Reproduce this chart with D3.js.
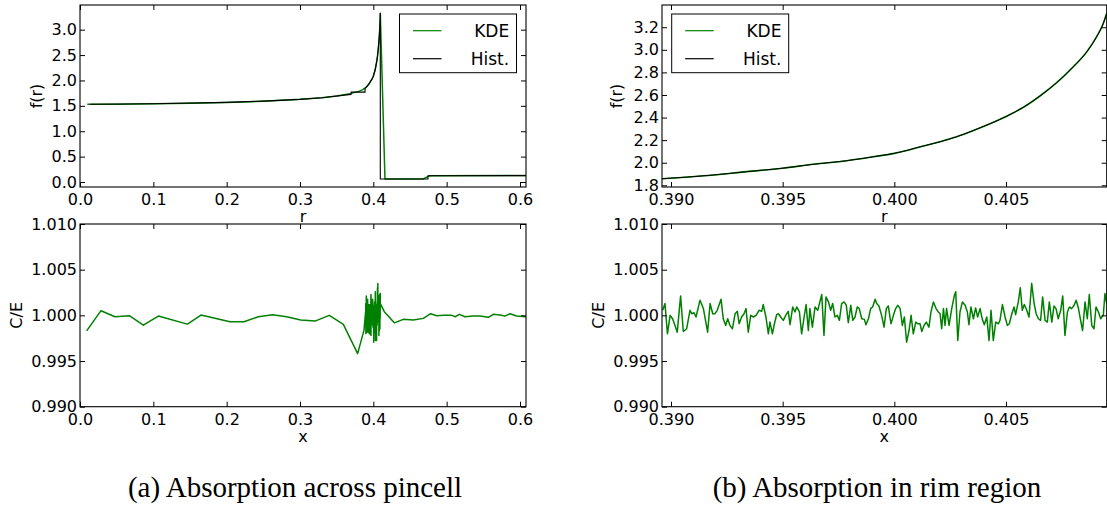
<!DOCTYPE html>
<html>
<head>
<meta charset="utf-8">
<script src="https://cdn.jsdelivr.net/npm/d3@7"></script>
<style>
  html, body { margin: 0; padding: 0; background: #fff; }
  svg { display: block; }
  text { font-family: "DejaVu Sans", sans-serif; fill: #000; }
  .caption { font-family: "Liberation Serif", "Times New Roman", serif; font-size: 29px; }
</style>
</head>
<body>
<svg id="fig" width="1107" height="510"></svg>
<script>
// ---------- data ----------
// rim region (fine bins): radius and flux density
const rimR    = [0.38958, 0.39189, 0.39339, 0.39498, 0.39637, 0.39787, 0.39906, 0.40000, 0.40130, 0.40205, 0.40279,
                 0.40354, 0.40428, 0.40503, 0.40578, 0.40652, 0.40727, 0.40802, 0.40862, 0.40906, 0.40936, 0.40951];
const rimKDE  = [1.858, 1.891, 1.921, 1.951, 1.986, 2.018, 2.053, 2.083, 2.148, 2.186, 2.230,
                 2.285, 2.345, 2.412, 2.491, 2.591, 2.709, 2.851, 2.983, 3.116, 3.235, 3.323];
const rimHist = [1.858, 1.891, 1.921, 1.951, 1.986, 2.018, 2.053, 2.083, 2.148, 2.186, 2.230,
                 2.285, 2.345, 2.412, 2.491, 2.591, 2.709, 2.851, 2.983, 3.116, 3.235, 3.323];

// fuel interior and moderator, KDE estimate
const innerR   = [0.010, 0.050, 0.100, 0.150, 0.200, 0.250, 0.300, 0.330, 0.350, 0.370, 0.380, 0.385];
const innerKDE = [1.530, 1.533, 1.540, 1.552, 1.568, 1.592, 1.628, 1.660, 1.695, 1.745, 1.785, 1.815];
const outerR   = [0.4159, 0.468, 0.472, 0.476, 0.480, 0.6082];
const outerKDE = [0.059, 0.059, 0.090, 0.120, 0.124, 0.126];

// histogram outline (repeated radii mark bin edges)
const innerHistR = [0.014, 0.100, 0.200, 0.250, 0.300, 0.330, 0.3696, 0.3696, 0.3887, 0.3887];
const innerHist  = [1.530, 1.540, 1.568, 1.592, 1.628, 1.660, 1.725, 1.770, 1.770, 1.840];
const outerHistR = [0.40951, 0.4745, 0.4745, 0.6082];
const outerHist  = [0.059, 0.059, 0.124, 0.126];

// collision / expected ratio in the rim region
const rimX  = [0.38963, 0.38973, 0.38984, 0.38996, 0.39007, 0.39018, 0.39028, 0.39043, 0.39055, 0.39070, 0.39085,
               0.39093, 0.39103, 0.39112, 0.39130, 0.39145, 0.39164, 0.39175, 0.39187, 0.39197, 0.39207, 0.39224,
               0.39234, 0.39245, 0.39254, 0.39264, 0.39275, 0.39287, 0.39297, 0.39305, 0.39316, 0.39327, 0.39336,
               0.39346, 0.39357, 0.39369, 0.39381, 0.39394, 0.39406, 0.39413, 0.39425, 0.39436, 0.39443, 0.39454,
               0.39463, 0.39473, 0.39481, 0.39491, 0.39503, 0.39515, 0.39525, 0.39533, 0.39545, 0.39555, 0.39563,
               0.39575, 0.39585, 0.39596, 0.39605, 0.39615,
               0.39622, 0.39633, 0.39645, 0.39657, 0.39675, 0.39685, 0.39694, 0.39705, 0.39715, 0.39724, 0.39734,
               0.39745, 0.39754, 0.39764, 0.39775, 0.39785, 0.39794, 0.39805, 0.39814, 0.39824, 0.39834, 0.39843,
               0.39854, 0.39866, 0.39873, 0.39884, 0.39894, 0.39903, 0.39914, 0.39921, 0.39931, 0.39943, 0.39954,
               0.39964, 0.39973, 0.39985, 0.39996, 0.40006, 0.40015, 0.40026, 0.40036, 0.40045, 0.40055, 0.40066,
               0.40075, 0.40085, 0.40096, 0.40105, 0.40115, 0.40123, 0.40133, 0.40143, 0.40155, 0.40164, 0.40175,
               0.40187, 0.40197, 0.40205, 0.40212, 0.40220, 0.40227, 0.40234, 0.40245, 0.40257, 0.40269,
               0.40275, 0.40284, 0.40294, 0.40305, 0.40317, 0.40327, 0.40334, 0.40343, 0.40354, 0.40364, 0.40373,
               0.40384, 0.40394, 0.40403, 0.40414, 0.40424, 0.40433, 0.40443, 0.40454, 0.40466, 0.40473, 0.40484,
               0.40496, 0.40506, 0.40515, 0.40526, 0.40536, 0.40543, 0.40555, 0.40564, 0.40573, 0.40582, 0.40593,
               0.40603, 0.40615, 0.40626, 0.40635, 0.40645, 0.40655, 0.40664, 0.40675, 0.40685, 0.40694, 0.40705,
               0.40715, 0.40724, 0.40734, 0.40745, 0.40754, 0.40764, 0.40775, 0.40784, 0.40794, 0.40805, 0.40814,
               0.40824, 0.40834, 0.40843, 0.40854, 0.40864, 0.40873, 0.40884, 0.40894, 0.40903, 0.40914, 0.40924,
               0.40936, 0.40943, 0.40951];
const rimCE = [1.00055, 1.00129, 0.99798, 1.00000, 0.99963, 0.99890, 0.99816, 1.00213, 0.99823, 0.99853, 1.00055,
               1.00018, 1.00029, 0.99982, 1.00166, 1.00074, 0.99816, 1.00129, 1.00018, 1.00018, 1.00055, 1.00177,
               0.99963, 0.99890, 0.99963, 0.99890, 0.99853, 1.00018, 1.00044, 0.99908, 0.99982, 1.00018, 1.00074,
               0.99816, 1.00000, 0.99982, 1.00000, 1.00055, 1.00044, 1.00118, 0.99982, 0.99798, 0.99926, 0.99798,
               0.99908, 1.00007, 1.00018, 0.99982, 0.99945, 1.00007, 1.00044, 0.99897, 1.00092, 1.00037, 1.00092,
               1.00037, 0.99798, 0.99982, 1.00118, 0.99834,
               1.00074, 0.99871, 1.00092, 1.00055, 1.00228, 0.99779, 1.00202, 1.00147, 1.00055, 1.00129, 0.99982,
               1.00000, 0.99945, 1.00129, 1.00147, 1.00110, 0.99919, 1.00110, 0.99945, 0.99982, 1.00092, 1.00074,
               0.99963, 0.99956, 0.99897, 0.99963, 1.00074, 1.00092, 1.00177, 1.00129, 1.00103, 1.00000, 0.99871,
               1.00074, 1.00103, 0.99908, 1.00000, 1.00074, 1.00110, 1.00074, 0.99890, 0.99982, 0.99706, 0.99834,
               1.00000, 0.99798, 0.99926, 0.99908, 0.99908, 0.99823, 0.99890, 0.99926, 0.99871, 1.00037, 1.00147,
               1.00074, 1.00037, 1.00018, 0.99853, 1.00074, 0.99890, 1.00074, 0.99890, 1.00074, 1.00221,
               1.00258, 0.99724, 1.00037, 1.00147, 1.00110, 1.00037, 0.99897, 1.00092, 0.99963, 1.00081, 0.99982,
               1.00074, 0.99956, 0.99897, 0.99982, 0.99724, 1.00055, 0.99724, 0.99926, 0.99908, 0.99945, 1.00118,
               0.99982, 0.99890, 0.99908, 1.00018, 1.00092, 1.00007, 1.00147, 1.00302, 1.00055, 1.00118, 1.00055,
               0.99982, 1.00350, 1.00129, 1.00018, 0.99963, 0.99945, 1.00202, 0.99945, 0.99926, 1.00147, 0.99926,
               1.00103, 1.00074, 0.99963, 1.00055, 1.00213, 0.99779, 1.00037, 1.00092, 1.00074, 1.00110, 1.00166,
               1.00081, 0.99945, 0.99834, 1.00147, 0.99963, 1.00228, 0.99890, 0.99853, 1.00092, 1.00037, 0.99963,
               1.00007, 1.00239, 1.00129];

// collision / expected ratio across the rest of the pincell
const ceInX  = [0.0091, 0.0286, 0.0477, 0.0673, 0.0864, 0.1068, 0.1464, 0.1650, 0.2045, 0.2236, 0.2432, 0.2627,
                0.2818, 0.3009, 0.3205, 0.3400, 0.3591, 0.3786, 0.3873];
const ceIn   = [0.99830, 1.00051, 0.99985, 0.99996, 0.99893, 0.99992, 0.99904, 1.00003, 0.99930, 0.99930, 0.99985,
                1.00007, 0.99985, 0.99948, 0.99937, 1.00000, 0.99901, 0.99581, 0.99838];
const ceOutX = [0.4150, 0.4286, 0.4409, 0.4545, 0.4682, 0.4782, 0.4864, 0.4955, 0.5068, 0.5120, 0.5173, 0.5250,
                0.5364, 0.5455, 0.5568, 0.5636, 0.5727, 0.5795, 0.5864, 0.5955, 0.6082];
const ceOut  = [1.00040, 0.99918, 0.99956, 0.99948, 0.99967, 1.00018, 0.99996, 1.00000, 1.00000, 0.99985, 1.00011,
                0.99985, 0.99992, 0.99992, 0.99978, 1.00011, 1.00003, 0.99992, 1.00018, 0.99992, 0.99985];

// tick values
const ticksPinX   = [0.0, 0.1, 0.2, 0.3, 0.4, 0.5, 0.6];
const ticksPinF   = [0.0, 0.5, 1.0, 1.5, 2.0, 2.5, 3.0];
const ticksRimX   = [0.390, 0.395, 0.400, 0.405];
const ticksRimF   = [1.8, 2.0, 2.2, 2.4, 2.6, 2.8, 3.0, 3.2];
const ticksCE     = [0.990, 0.995, 1.000, 1.005, 1.010];
const legendNames = ["KDE", "Hist."];
const captions    = ["(a) Absorption across pincell", "(b) Absorption in rim region"];

// ---------- drawing ----------
const GREEN = "#008000";
const zip = (xs, ys) => xs.map((x, i) => [x, ys[i]]);
const svg = d3.select("#fig");
svg.append("rect").attr("width", 1107).attr("height", 510).attr("fill", "#fff");

let clipId = 0;
function panel(o) {
  const x = d3.scaleLinear().domain(o.xDomain).range([o.l, o.r]);
  const y = d3.scaleLinear().domain(o.yDomain).range([o.b, o.t]);
  const g = svg.append("g");
  const id = "clip" + (clipId++);
  g.append("clipPath").attr("id", id).append("rect")
    .attr("x", o.l).attr("y", o.t).attr("width", o.r - o.l).attr("height", o.b - o.t);

  const plot = g.append("g").attr("clip-path", `url(#${id})`);
  o.series.forEach(s => {
    const line = d3.line().x(d => x(d[0])).y(d => y(d[1])).curve(s.curve || d3.curveLinear);
    plot.append("path").datum(s.data)
      .attr("fill", "none").attr("stroke", s.color).attr("stroke-width", s.width)
      .attr("stroke-linejoin", "round").attr("d", line);
  });

  const fs = "16px";
  const style = sel => {
    sel.select(".domain").remove();
    sel.selectAll(".tick line").attr("stroke", "#000").attr("stroke-width", 1);
    sel.selectAll(".tick text").style("font-size", fs).attr("fill", "#000");
  };
  g.append("g").attr("transform", `translate(0,${o.b})`)
    .call(d3.axisBottom(x).tickValues(o.xTicks).tickFormat(d3.format(o.xFmt)).tickSizeInner(-5).tickSizeOuter(0).tickPadding(6.5))
    .call(style);
  g.append("g").attr("transform", `translate(0,${o.t})`)
    .call(d3.axisTop(x).tickValues(o.xTicks).tickFormat("").tickSizeInner(-5).tickSizeOuter(0))
    .call(style);
  g.append("g").attr("transform", `translate(${o.l},0)`)
    .call(d3.axisLeft(y).tickValues(o.yTicks).tickFormat(d3.format(o.yFmt)).tickSizeInner(-5).tickSizeOuter(0).tickPadding(3))
    .call(style);
  g.append("g").attr("transform", `translate(${o.r},0)`)
    .call(d3.axisRight(y).tickValues(o.yTicks).tickFormat("").tickSizeInner(-5).tickSizeOuter(0))
    .call(style);

  g.append("rect").attr("x", o.l).attr("y", o.t).attr("width", o.r - o.l).attr("height", o.b - o.t)
    .attr("fill", "none").attr("stroke", "#000").attr("stroke-width", 1.1);

  g.append("text").attr("x", (o.l + o.r) / 2).attr("y", o.xLabelY)
    .attr("text-anchor", "middle").style("font-size", fs).text(o.xLabel);
  g.append("text").attr("transform", `translate(${o.yLabelX},${(o.t + o.b) / 2}) rotate(-90)`)
    .attr("text-anchor", "middle").attr("dy", "0.35em").style("font-size", fs).text(o.yLabel);

  if (o.legend) {
    const L = o.legend;
    const lg = g.append("g").attr("transform", `translate(${L.x},${L.y})`);
    lg.append("rect").attr("width", 117).attr("height", 58.7)
      .attr("fill", "#fff").attr("stroke", "#000").attr("stroke-width", 1);
    const cols = [GREEN, "#000"];
    legendNames.forEach((name, i) => {
      const yy = 16.7 + i * 28;
      lg.append("line").attr("x1", 13.5).attr("x2", 42).attr("y1", yy).attr("y2", yy)
        .attr("stroke", cols[i]).attr("stroke-width", 1.2);
      lg.append("text").attr("x", 109.7).attr("y", yy + 6.5).attr("text-anchor", "end")
        .style("font-size", "17px").text(name);
    });
  }
}

const pinX = [0, 0.6082];
const rimXd = [0.389597, 0.409509];

// (a) top: flux shape across pincell
panel({
  l: 80, r: 526, t: 5, b: 187, xDomain: pinX, yDomain: [-0.0985, 3.486],
  xTicks: ticksPinX, xFmt: ".1f", yTicks: ticksPinF, yFmt: ".1f",
  xLabel: "r", xLabelY: 222, yLabel: "f(r)", yLabelX: 36,
  series: [
    { data: zip(innerR.concat(rimR, outerR), innerKDE.concat(rimKDE, outerKDE)), color: GREEN, width: 1.5 },
    { data: zip(innerHistR.concat(rimR, outerHistR), innerHist.concat(rimHist, outerHist)), color: "#000", width: 1.1 }
  ],
  legend: { x: 399.5, y: 14 }
});

// (a) bottom: C/E across pincell
panel({
  l: 80, r: 526, t: 224, b: 406.7, xDomain: pinX, yDomain: [0.99, 1.01],
  xTicks: ticksPinX, xFmt: ".1f", yTicks: ticksCE, yFmt: ".3f",
  xLabel: "x", xLabelY: 442, yLabel: "C/E", yLabelX: 16.5,
  series: [
    { data: zip(ceInX.concat(rimX, ceOutX), ceIn.concat(rimCE, ceOut)), color: GREEN, width: 1.5 }
  ]
});

// (b) top: flux shape in rim
panel({
  l: 662, r: 1106.7, t: 5, b: 187, xDomain: rimXd, yDomain: [1.785, 3.397],
  xTicks: ticksRimX, xFmt: ".3f", yTicks: ticksRimF, yFmt: ".1f",
  xLabel: "r", xLabelY: 222, yLabel: "f(r)", yLabelX: 616,
  series: [
    { data: zip(rimR, rimKDE), color: GREEN, width: 1.6, curve: d3.curveMonotoneX },
    { data: zip(rimR, rimHist), color: "#000", width: 1.0, curve: d3.curveMonotoneX }
  ],
  legend: { x: 671.7, y: 14 }
});

// (b) bottom: C/E in rim
panel({
  l: 662, r: 1106.7, t: 224, b: 406.7, xDomain: rimXd, yDomain: [0.99, 1.01],
  xTicks: ticksRimX, xFmt: ".3f", yTicks: ticksCE, yFmt: ".3f",
  xLabel: "x", xLabelY: 442, yLabel: "C/E", yLabelX: 598,
  series: [
    { data: zip(rimX, rimCE), color: GREEN, width: 1.5 }
  ]
});

// captions
svg.append("text").attr("class", "caption").attr("x", 295).attr("y", 497)
  .attr("text-anchor", "middle").text(captions[0]);
svg.append("text").attr("class", "caption").attr("x", 877).attr("y", 497)
  .attr("text-anchor", "middle").text(captions[1]);
</script>
</body>
</html>
